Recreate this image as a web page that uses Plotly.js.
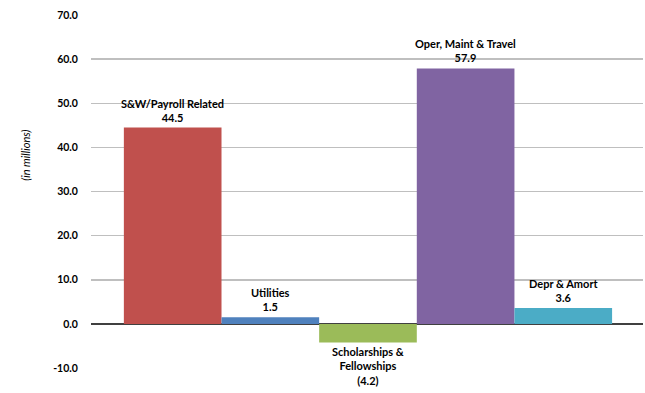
<!DOCTYPE html>
<html><head><meta charset="utf-8">
<script src="https://cdn.plot.ly/plotly-3.0.1.min.js"></script>
<style>html,body{margin:0;padding:0;background:#fff}#chart{width:645px;height:393px}</style>
</head><body><div id="chart"></div>
<script>
var categories = ["S&W/Payroll Related", "Utilities", "Scholarships &<br>Fellowships", "Oper, Maint & Travel", "Depr & Amort"];
var values = [44.5, 1.5, -4.2, 57.9, 3.6];
var colors = ["#C0504D", "#4F81BD", "#9BBB59", "#8064A2", "#4BACC6"];
var tickVals = [-10, 0, 10, 20, 30, 40, 50, 60, 70];
var tickText = ["-10.0", "0.0", "10.0", "20.0", "30.0", "40.0", "50.0", "60.0", "70.0"];
var yTitle = "(in millions)";

var fnt = "Lato, 'Liberation Sans', sans-serif";
var xs = categories.map(function(_, i){ return i; });

var trace = {
  type: "bar", x: xs, y: values, width: 1,
  marker: {color: colors, line: {width: 0}},
  hoverinfo: "skip", showlegend: false
};

function fmt(v){ return v < 0 ? "(" + Math.abs(v).toFixed(1) + ")" : v.toFixed(1); }

var annotations = xs.map(function(i){
  var v = values[i];
  return {
    x: i, y: v, xref: "x", yref: "y",
    text: categories[i] + "<br>" + fmt(v),
    showarrow: false,
    yanchor: v < 0 ? "top" : "bottom",
    yshift: v < 0 ? -1 : 2,
    font: {family: fnt, size: 11, color: "#000", weight: "bold"},
    align: "center"
  };
});
annotations.push({
  text: "<i>" + yTitle + "</i>", xref: "paper", yref: "paper",
  x: -0.134, y: 0.603, textangle: -90, showarrow: false,
  font: {family: fnt, size: 11, color: "#000"}
});

var layout = {
  width: 645, height: 393,
  margin: {l: 91, r: 2, t: 15, b: 25},
  paper_bgcolor: "#fff", plot_bgcolor: "#fff",
  xaxis: {range: [-0.8365, 4.8165], showticklabels: false, showgrid: false, zeroline: false, ticks: "", fixedrange: true},
  yaxis: {
    range: [-10, 70], tickvals: tickVals, ticktext: tickText,
    showgrid: true, gridcolor: "#BFBFBF", gridwidth: 1.5,
    zeroline: true, zerolinecolor: "#404040", zerolinewidth: 1.5,
    ticks: "outside", ticklen: 10, tickcolor: "rgba(0,0,0,0)",
    tickfont: {family: fnt, size: 10.5, color: "#000", weight: "bold"},
    showline: false
  },
  annotations: annotations
};

Plotly.newPlot("chart", [trace], layout, {displayModeBar: false, staticPlot: true});
</script></body></html>
